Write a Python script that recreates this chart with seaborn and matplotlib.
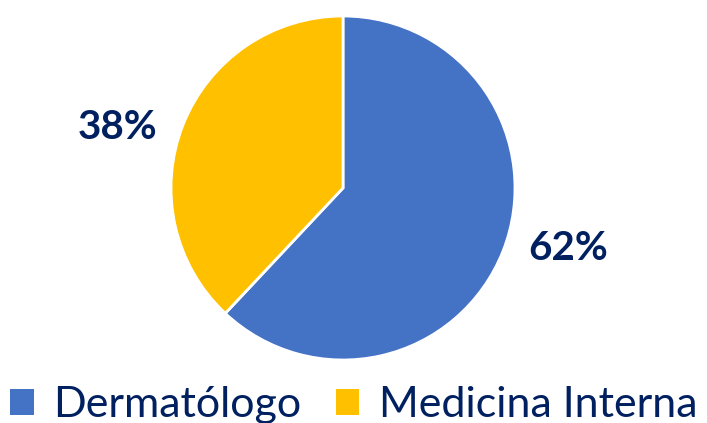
import matplotlib
matplotlib.use("Agg")
import matplotlib.pyplot as plt
import seaborn as sns

categories = ["Dermatólogo", "Medicina Interna"]
values = [62, 38]
colors = ["#4472C4", "#FFC000"]
label_color = "#002060"

sns.set_theme(style="white")
plt.rcParams["font.family"] = ["Lato", "DejaVu Sans"]

fig = plt.figure(figsize=(7.07, 4.23), dpi=100)
ax = fig.add_axes([171 / 707, 63 / 423, 344 / 707, 344 / 423])

wedges, texts, autotexts = ax.pie(
    values, colors=colors, startangle=90, counterclock=False,
    autopct=lambda p: f"{p:.0f}%", pctdistance=1.35,
    wedgeprops=dict(edgecolor="white", linewidth=2),
)
ax.set_xlim(-1, 1)
ax.set_ylim(-1, 1)
ax.set_aspect("equal")

for t, pos in zip(autotexts, [(1.31, -0.35), (-1.31, 0.35)]):
    t.set_position(pos)
    t.set_color(label_color)
    t.set_fontsize(29)
    t.set_fontweight("bold")

leg = fig.legend(
    wedges, categories, loc="lower center", bbox_to_anchor=(0.5, -0.095),
    ncol=2, frameon=False, fontsize=31, handlelength=0.55, handleheight=0.55,
    handletextpad=0.45, columnspacing=0.8, labelcolor=label_color,
)
for h in leg.legend_handles:
    h.set_edgecolor("none")

fig.savefig("out.png", dpi=100)
